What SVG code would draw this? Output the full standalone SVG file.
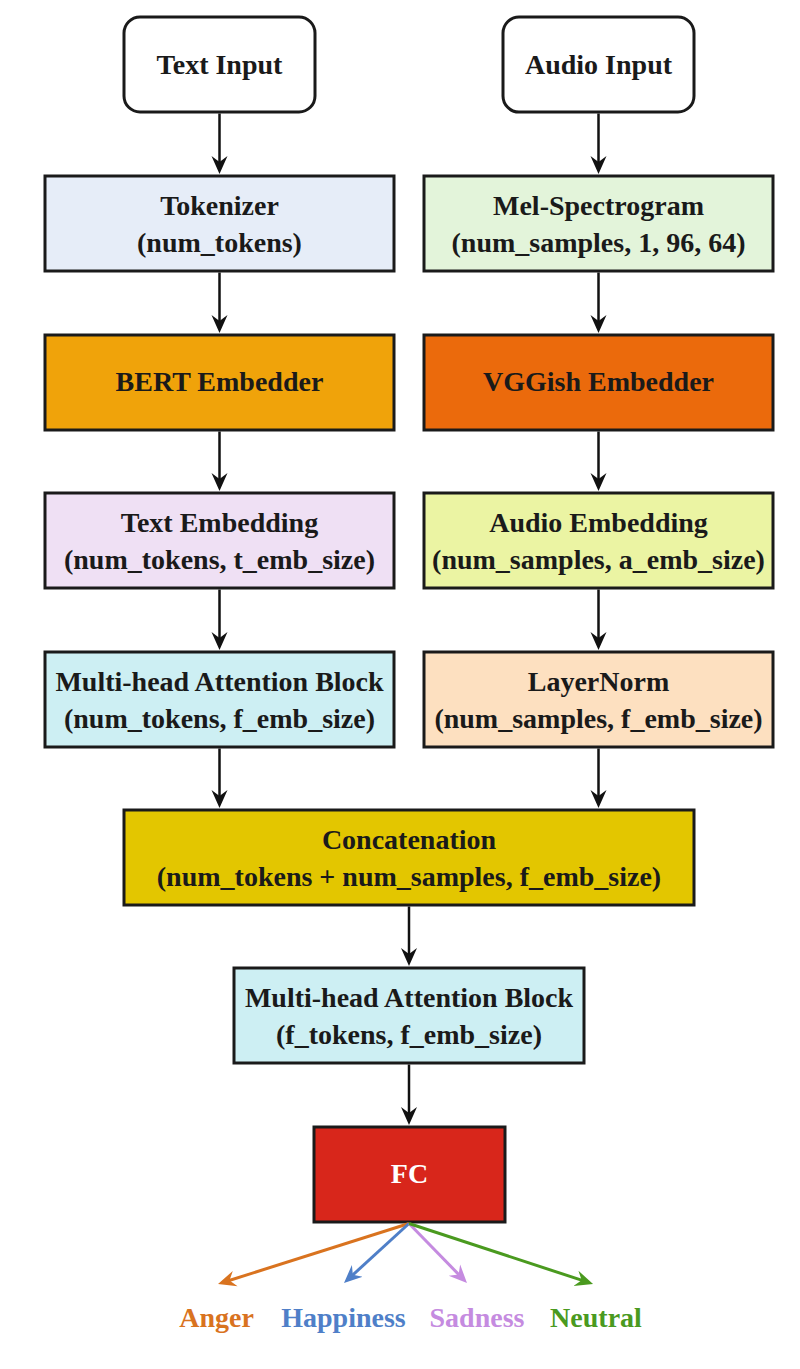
<svg xmlns="http://www.w3.org/2000/svg" width="800" height="1369" viewBox="0 0 800 1369">
<style>
.box{stroke:#1a1a1a;stroke-width:3}
.t{font-family:"Liberation Serif","Times New Roman",serif;font-weight:bold;font-size:28px;fill:#1a1a1a;text-anchor:middle}
.w{fill:#ffffff}
.conn line{stroke:#111111;stroke-width:2.5;fill:none}
.conn line.c{stroke-width:3}
</style>
<defs>
<marker id="ah" viewBox="0 0 18 18" refX="13" refY="9" markerWidth="18" markerHeight="18" markerUnits="userSpaceOnUse" orient="auto">
<path d="M0,1 L18,9 L0,17 L6,9 Z" fill="#111111"/>
</marker>
<marker id="ahO" viewBox="0 0 18 18" refX="13" refY="9" markerWidth="18" markerHeight="18" markerUnits="userSpaceOnUse" orient="auto">
<path d="M0,1 L18,9 L0,17 L6,9 Z" fill="#d9731f"/>
</marker>
<marker id="ahB" viewBox="0 0 18 18" refX="13" refY="9" markerWidth="18" markerHeight="18" markerUnits="userSpaceOnUse" orient="auto">
<path d="M0,1 L18,9 L0,17 L6,9 Z" fill="#4f7fc8"/>
</marker>
<marker id="ahV" viewBox="0 0 18 18" refX="13" refY="9" markerWidth="18" markerHeight="18" markerUnits="userSpaceOnUse" orient="auto">
<path d="M0,1 L18,9 L0,17 L6,9 Z" fill="#c58be0"/>
</marker>
<marker id="ahG" viewBox="0 0 18 18" refX="13" refY="9" markerWidth="18" markerHeight="18" markerUnits="userSpaceOnUse" orient="auto">
<path d="M0,1 L18,9 L0,17 L6,9 Z" fill="#4a9a1f"/>
</marker>
</defs>
<rect x="0" y="0" width="800" height="1369" fill="#ffffff"/>

<g id="text-input">
<rect class="box" x="124" y="17" width="191" height="95" rx="16" fill="#ffffff"/>
<text class="t" x="219.5" y="74">Text Input</text>
</g>
<g id="audio-input">
<rect class="box" x="503" y="17" width="191" height="95" rx="16" fill="#ffffff"/>
<text class="t" x="598.5" y="74">Audio Input</text>
</g>
<g id="tokenizer">
<rect class="box" x="45" y="176" width="349" height="95" fill="#e6edf8"/>
<text class="t" x="219.5" y="215">Tokenizer</text>
<text class="t" x="219.5" y="252">(num_tokens)</text>
</g>
<g id="mel-spectrogram">
<rect class="box" x="424" y="176" width="349" height="95" fill="#e3f4da"/>
<text class="t" x="598.5" y="215">Mel-Spectrogram</text>
<text class="t" x="598.5" y="252">(num_samples, 1, 96, 64)</text>
</g>
<g id="bert-embedder">
<rect class="box" x="45" y="335" width="349" height="95" fill="#f0a30a"/>
<text class="t" x="219.5" y="391">BERT Embedder</text>
</g>
<g id="vggish-embedder">
<rect class="box" x="424" y="335" width="349" height="95" fill="#eb6a0c"/>
<text class="t" x="598.5" y="391">VGGish Embedder</text>
</g>
<g id="text-embedding">
<rect class="box" x="45" y="493" width="349" height="95" fill="#efe0f4"/>
<text class="t" x="219.5" y="532">Text Embedding</text>
<text class="t" x="219.5" y="569">(num_tokens, t_emb_size)</text>
</g>
<g id="audio-embedding">
<rect class="box" x="424" y="493" width="349" height="95" fill="#ebf4a3"/>
<text class="t" x="598.5" y="532">Audio Embedding</text>
<text class="t" x="598.5" y="569">(num_samples, a_emb_size)</text>
</g>
<g id="mha-text">
<rect class="box" x="45" y="652" width="349" height="95" fill="#cdeff3"/>
<text class="t" x="219.5" y="691">Multi-head Attention Block</text>
<text class="t" x="219.5" y="728">(num_tokens, f_emb_size)</text>
</g>
<g id="layernorm">
<rect class="box" x="424" y="652" width="349" height="95" fill="#fde0c0"/>
<text class="t" x="598.5" y="691">LayerNorm</text>
<text class="t" x="598.5" y="728">(num_samples, f_emb_size)</text>
</g>
<g id="concatenation">
<rect class="box" x="124" y="810" width="570" height="95" fill="#e3c600"/>
<text class="t" x="409" y="849">Concatenation</text>
<text class="t" x="409" y="886">(num_tokens + num_samples, f_emb_size)</text>
</g>
<g id="mha-fused">
<rect class="box" x="234" y="968" width="350" height="95" fill="#cdeff3"/>
<text class="t" x="409" y="1007">Multi-head Attention Block</text>
<text class="t" x="409" y="1044">(f_tokens, f_emb_size)</text>
</g>
<g id="fc">
<rect class="box" x="314" y="1127" width="191" height="95" fill="#d8261b"/>
<text class="t w" x="409.5" y="1183">FC</text>
</g>
<g id="labels">
<text class="t" x="216.5" y="1327" style="fill:#d9731f">Anger</text>
<text class="t" x="343.5" y="1327" style="fill:#4f7fc8">Happiness</text>
<text class="t" x="477" y="1327" style="fill:#c58be0">Sadness</text>
<text class="t" x="596" y="1327" style="fill:#4a9a1f">Neutral</text>
</g>

<g id="connectors" class="conn">
<line x1="219.5" y1="113.5" x2="219.5" y2="169" marker-end="url(#ah)"/>
<line x1="598.5" y1="113.5" x2="598.5" y2="169" marker-end="url(#ah)"/>
<line x1="219.5" y1="272.5" x2="219.5" y2="328" marker-end="url(#ah)"/>
<line x1="598.5" y1="272.5" x2="598.5" y2="328" marker-end="url(#ah)"/>
<line x1="219.5" y1="431.5" x2="219.5" y2="486" marker-end="url(#ah)"/>
<line x1="598.5" y1="431.5" x2="598.5" y2="486" marker-end="url(#ah)"/>
<line x1="219.5" y1="589.5" x2="219.5" y2="645" marker-end="url(#ah)"/>
<line x1="598.5" y1="589.5" x2="598.5" y2="645" marker-end="url(#ah)"/>
<line x1="219.5" y1="748.5" x2="219.5" y2="803" marker-end="url(#ah)"/>
<line x1="598.5" y1="748.5" x2="598.5" y2="803" marker-end="url(#ah)"/>
<line x1="409" y1="906.5" x2="409" y2="961" marker-end="url(#ah)"/>
<line x1="409" y1="1064.5" x2="409" y2="1120" marker-end="url(#ah)"/>
<line class="c" x1="409" y1="1223.5" x2="222.8" y2="1282.5" marker-end="url(#ahO)" style="stroke:#d9731f"/>
<line class="c" x1="409" y1="1223.5" x2="347.7" y2="1279.6" marker-end="url(#ahB)" style="stroke:#4f7fc8"/>
<line class="c" x1="409" y1="1223.5" x2="463.5" y2="1279.4" marker-end="url(#ahV)" style="stroke:#c58be0"/>
<line class="c" x1="409" y1="1223.5" x2="588.3" y2="1282.4" marker-end="url(#ahG)" style="stroke:#4a9a1f"/>
</g>
</svg>
